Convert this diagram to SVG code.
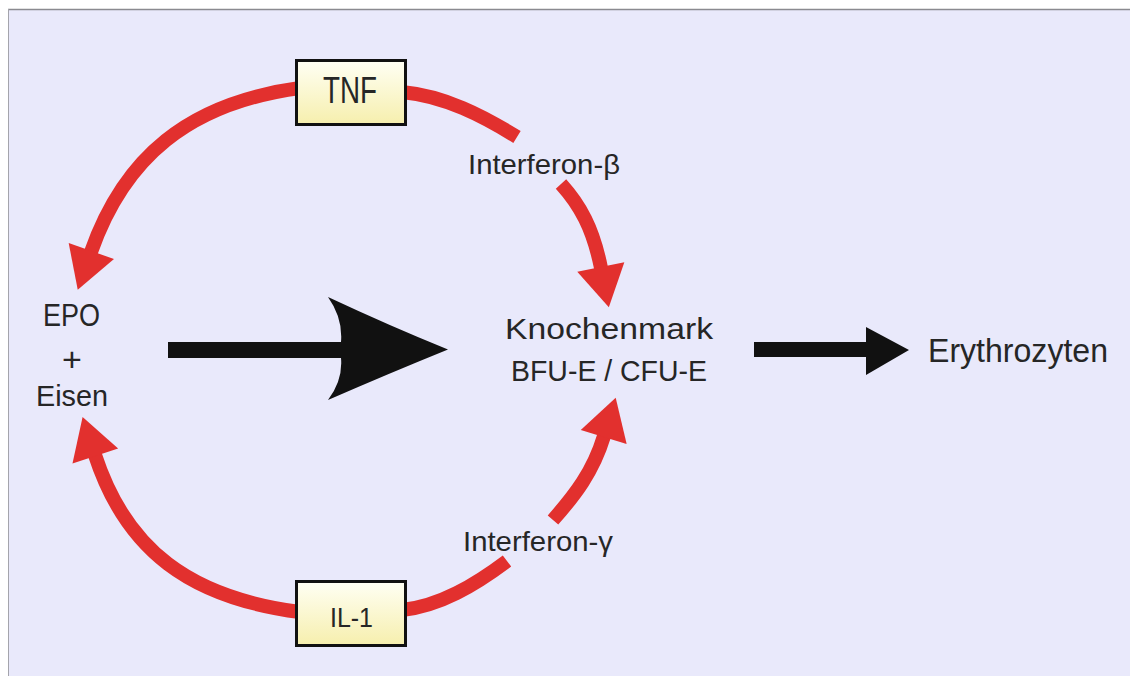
<svg xmlns="http://www.w3.org/2000/svg" width="1130" height="677" viewBox="0 0 1130 677">
  <style>
    .lbl { font-family: "Liberation Sans", Arial, sans-serif; fill: #262626; }
    .red { fill: none; stroke: #e2302e; stroke-width: 14; stroke-linecap: butt; }
    .box { fill: url(#boxGrad); stroke: #111; stroke-width: 3; }
    .blk { fill: #111; }
  </style>
  <defs>
    <linearGradient id="boxGrad" x1="0" y1="0" x2="0" y2="1">
      <stop offset="0" stop-color="#fffff4"/>
      <stop offset="1" stop-color="#f6efad"/>
    </linearGradient>
    <marker id="redHead" markerUnits="userSpaceOnUse" markerWidth="44" markerHeight="50" refX="1" refY="24" orient="auto" overflow="visible">
      <path d="M0,0 L41,24 L0,48 Z" fill="#e2302e"/>
    </marker>
  </defs>

  <rect x="0" y="0" width="1130" height="677" fill="#ffffff"/>
  <rect x="8" y="9" width="1122" height="667" fill="#e9e9fb"/>
  <line x1="8" y1="9.5" x2="1130" y2="9.5" stroke="#8a8a90" stroke-width="1.5"/>
  <line x1="8.5" y1="9" x2="8.5" y2="676" stroke="#a4a4ac" stroke-width="1"/>

  <g id="connectors">
    <path class="red" d="M300,88 C188,103 124,158 91,252" marker-end="url(#redHead)"/>
    <path class="red" d="M300,612 C190,598 126,550 95,455" marker-end="url(#redHead)"/>
    <path class="red" d="M402,92 C445,96 483,116 517,137"/>
    <path class="red" d="M561,184 C580,205 593,228 601,268" marker-end="url(#redHead)"/>
    <path class="red" d="M402,610 C440,606 475,585 507,561"/>
    <path class="red" d="M553,520 C575,495 593,472 604,436" marker-end="url(#redHead)"/>
    <path class="blk" d="M168,342 L341,342 Q343,318 328,297 Q390,326 448,349.5 Q390,373 328,400 Q343,380 341,358 L168,358 Z"/>
    <path class="blk" d="M754,342 L866,342 L866,327 L909,350 L866,375 L866,357 L754,357 Z"/>
  </g>

  <g id="node-tnf">
    <rect class="box" x="296.5" y="60.5" width="109" height="64"/>
    <text class="lbl" x="350" y="103" font-size="36" text-anchor="middle" textLength="54" lengthAdjust="spacingAndGlyphs">TNF</text>
  </g>
  <g id="node-il1">
    <rect class="box" x="296.5" y="581.5" width="109" height="64"/>
    <text class="lbl" x="351.5" y="627" font-size="28" text-anchor="middle" textLength="43" lengthAdjust="spacingAndGlyphs">IL-1</text>
  </g>
  <g id="node-epo">
    <text class="lbl" x="71.5" y="326" font-size="32" text-anchor="middle" textLength="57" lengthAdjust="spacingAndGlyphs">EPO</text>
    <text class="lbl" x="72" y="371" font-size="34" text-anchor="middle">+</text>
    <text class="lbl" x="72" y="406" font-size="29" text-anchor="middle" textLength="72" lengthAdjust="spacingAndGlyphs">Eisen</text>
  </g>
  <g id="node-knochenmark">
    <text class="lbl" x="609" y="339" font-size="29" text-anchor="middle" textLength="208" lengthAdjust="spacingAndGlyphs">Knochenmark</text>
    <text class="lbl" x="609" y="381" font-size="29" text-anchor="middle" textLength="196" lengthAdjust="spacingAndGlyphs">BFU-E / CFU-E</text>
  </g>
  <g id="node-ifn-beta">
    <text class="lbl" x="544" y="174" font-size="28" text-anchor="middle" textLength="152" lengthAdjust="spacingAndGlyphs">Interferon-β</text>
  </g>
  <g id="node-ifn-gamma">
    <text class="lbl" x="538" y="551" font-size="28" text-anchor="middle" textLength="150" lengthAdjust="spacingAndGlyphs">Interferon-γ</text>
  </g>
  <g id="node-erythrozyten">
    <text class="lbl" x="1018" y="362" font-size="33" text-anchor="middle" textLength="180" lengthAdjust="spacingAndGlyphs">Erythrozyten</text>
  </g>
</svg>
